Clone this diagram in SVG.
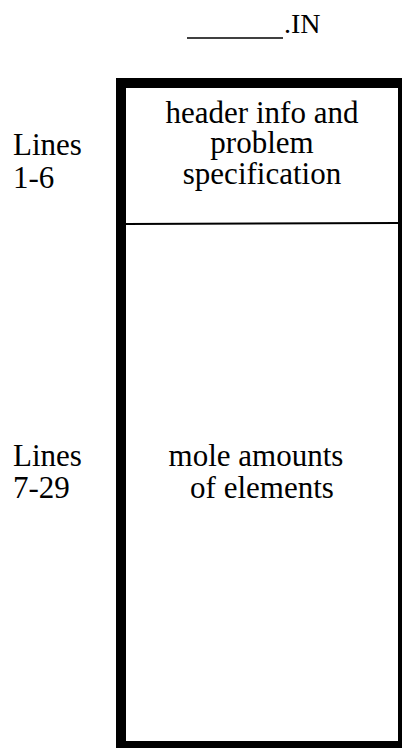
<svg xmlns="http://www.w3.org/2000/svg" width="403" height="749" viewBox="0 0 403 749">
  <style>
    text { font-family: "Liberation Serif", "DejaVu Serif", "Times New Roman", serif; fill: #000; }
    .t { font-size: 31px; }
    .c { text-anchor: middle; }
    .ln { stroke: #000; fill: none; }
  </style>
  <rect width="403" height="749" fill="#fff"/>
  <g id="title">
    <line class="ln" x1="187" y1="38" x2="283" y2="38" stroke-width="1.5"/>
    <text x="284" y="33" style="font-size:28px">.IN</text>
  </g>
  <g id="file-box">
    <path d="M116,78 L402,78 L402,748 L116,748 Z M126,88 L126,741 L398,741 L398,88 Z" fill="#000" fill-rule="evenodd"/>
    <line class="ln" x1="126" y1="224" x2="398" y2="223" stroke-width="2"/>
  </g>
  <g id="header-section">
    <text class="t c" x="262" y="123">header info and</text>
    <text class="t c" x="262" y="153">problem</text>
    <text class="t c" x="262" y="184">specification</text>
  </g>
  <g id="elements-section">
    <text class="t c" x="256" y="466">mole amounts</text>
    <text class="t c" x="262" y="498">of elements</text>
  </g>
  <g id="labels">
    <text class="t" x="13" y="155">Lines</text>
    <text class="t" x="13" y="188">1-6</text>
    <text class="t" x="13" y="466">Lines</text>
    <text class="t" x="13" y="498">7-29</text>
  </g>
</svg>
